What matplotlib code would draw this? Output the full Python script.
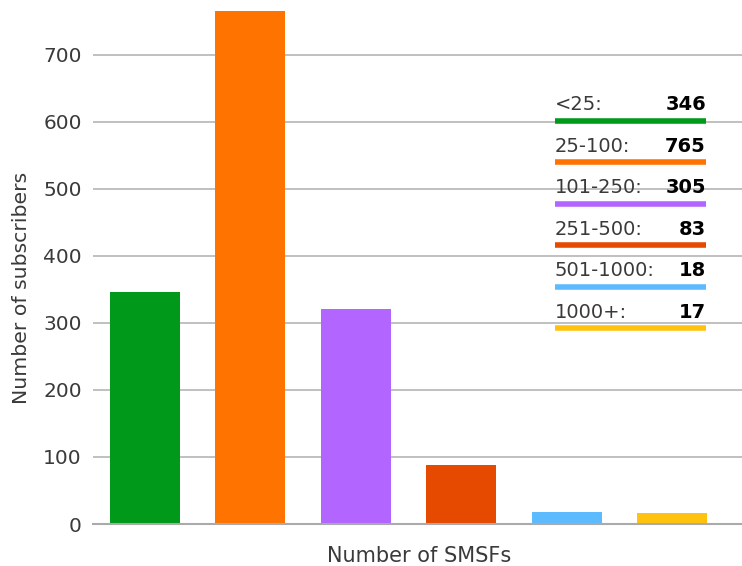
import matplotlib.pyplot as plt

# Данные
categories = ['<25', '25-100', '101-250', '251-500', '501-1000', '1000+']
bar_heights = [346, 765, 321, 88, 18, 17]     # высоты столбцов, как на картинке
legend_counts = [346, 765, 305, 83, 18, 17]   # числа в легенде
colors = ['#00991a', '#ff7300', '#b266ff', '#e64a00', '#5cbbff', '#ffc30f']
y_ticks = [0, 100, 200, 300, 400, 500, 600, 700]

W, H = 742, 566
plt.rcParams['font.family'] = ['DejaVu Sans']
TEXT = '#3a3a3a'


def fx(px):
    return px / W


def fy(py):
    return 1 - py / H


def main():
    fig = plt.figure(figsize=(W / 100, H / 100), dpi=100)
    ax = fig.add_axes([fx(93), fy(524), 1 - fx(93), fy(10) - fy(524)])

    x = range(len(categories))
    ax.bar(x, bar_heights, width=0.664, color=colors, zorder=2)

    ax.set_xlim(-0.49, 5.66)
    ax.set_ylim(0, 767)
    ax.set_yticks(y_ticks)
    ax.set_xticks([])
    ax.tick_params(axis='y', length=0, pad=8, labelsize=14.5, labelcolor=TEXT)
    ax.grid(axis='y', color='#bbbbbb', linewidth=1.3, zorder=1)
    for side in ['top', 'right', 'left']:
        ax.spines[side].set_visible(False)
    ax.spines['bottom'].set_color('#aaaaaa')
    ax.spines['bottom'].set_linewidth(1.5)

    fig.text(fx(419), fy(562), 'Number of SMSFs', ha='center', va='baseline',
             fontsize=15, color=TEXT)
    fig.text(fx(22), fy(288), 'Number of subscribers', ha='center', va='center',
             rotation=90, fontsize=14.7, color=TEXT)

    # Легенда вручную
    for i, (cat, cnt, col) in enumerate(zip(categories, legend_counts, colors)):
        ly = 120.7 + i * 41.5
        fig.add_artist(plt.Line2D([fx(555), fx(706)], [fy(ly), fy(ly)],
                                  color=col, linewidth=4, solid_capstyle='butt',
                                  transform=fig.transFigure))
        fig.text(fx(555), fy(ly - 10.5), f'{cat}:', ha='left', va='baseline',
                 fontsize=14, color=TEXT)
        fig.text(fx(706), fy(ly - 10.5), f'{cnt}', ha='right', va='baseline',
                 fontsize=14, fontweight='bold', color='black')

    plt.savefig('out.png', dpi=100)


if __name__ == "__main__":
    main()
